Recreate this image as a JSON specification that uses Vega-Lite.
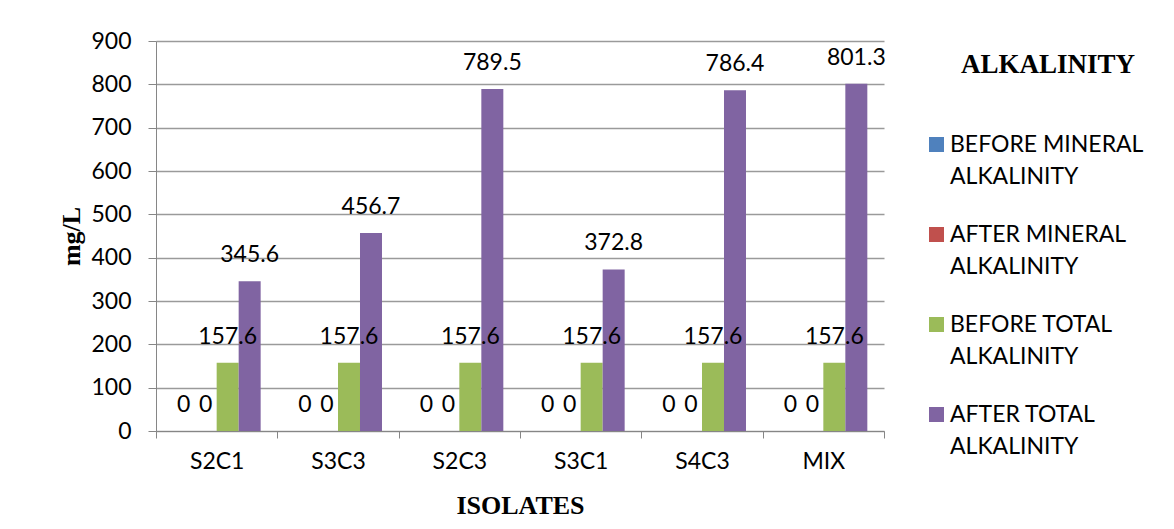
{
  "$schema": "https://vega.github.io/schema/vega-lite/v6.json",
  "width": 728,
  "height": 390,
  "autosize": {"type": "none"},
  "padding": {"left": 156, "top": 41, "right": 290, "bottom": 98},
  "background": "white",
  "config": {
    "view": {"stroke": null},
    "axis": {
      "domainColor": "#868686",
      "tickColor": "#868686",
      "gridColor": "#9a9a9a",
      "labelColor": "black",
      "titleColor": "black",
      "labelFont": "Lato",
      "labelFontSize": 23,
      "titleFont": "Liberation Serif",
      "titleFontWeight": "bold",
      "titleFontSize": 26
    }
  },
  "data": {
    "values": [
      {"isolate": "S2C1", "series": "BEFORE MINERAL ALKALINITY", "value": 0},
      {"isolate": "S2C1", "series": "AFTER MINERAL ALKALINITY", "value": 0},
      {"isolate": "S2C1", "series": "BEFORE TOTAL ALKALINITY", "value": 157.6},
      {"isolate": "S2C1", "series": "AFTER TOTAL ALKALINITY", "value": 345.6},
      {"isolate": "S3C3", "series": "BEFORE MINERAL ALKALINITY", "value": 0},
      {"isolate": "S3C3", "series": "AFTER MINERAL ALKALINITY", "value": 0},
      {"isolate": "S3C3", "series": "BEFORE TOTAL ALKALINITY", "value": 157.6},
      {"isolate": "S3C3", "series": "AFTER TOTAL ALKALINITY", "value": 456.7},
      {"isolate": "S2C3", "series": "BEFORE MINERAL ALKALINITY", "value": 0},
      {"isolate": "S2C3", "series": "AFTER MINERAL ALKALINITY", "value": 0},
      {"isolate": "S2C3", "series": "BEFORE TOTAL ALKALINITY", "value": 157.6},
      {"isolate": "S2C3", "series": "AFTER TOTAL ALKALINITY", "value": 789.5},
      {"isolate": "S3C1", "series": "BEFORE MINERAL ALKALINITY", "value": 0},
      {"isolate": "S3C1", "series": "AFTER MINERAL ALKALINITY", "value": 0},
      {"isolate": "S3C1", "series": "BEFORE TOTAL ALKALINITY", "value": 157.6},
      {"isolate": "S3C1", "series": "AFTER TOTAL ALKALINITY", "value": 372.8},
      {"isolate": "S4C3", "series": "BEFORE MINERAL ALKALINITY", "value": 0},
      {"isolate": "S4C3", "series": "AFTER MINERAL ALKALINITY", "value": 0},
      {"isolate": "S4C3", "series": "BEFORE TOTAL ALKALINITY", "value": 157.6},
      {"isolate": "S4C3", "series": "AFTER TOTAL ALKALINITY", "value": 786.4},
      {"isolate": "MIX", "series": "BEFORE MINERAL ALKALINITY", "value": 0},
      {"isolate": "MIX", "series": "AFTER MINERAL ALKALINITY", "value": 0},
      {"isolate": "MIX", "series": "BEFORE TOTAL ALKALINITY", "value": 157.6},
      {"isolate": "MIX", "series": "AFTER TOTAL ALKALINITY", "value": 801.3}
    ]
  },
  "encoding": {
    "x": {
      "field": "isolate",
      "type": "nominal",
      "sort": ["S2C1", "S3C3", "S2C3", "S3C1", "S4C3", "MIX"],
      "scale": {"paddingInner": 0, "paddingOuter": 0},
      "title": "ISOLATES",
      "axis": {
        "labelAngle": 0,
        "tickBand": "extent",
        "tickSize": 7,
        "labelPadding": 12,
        "titlePadding": 19,
        "grid": false
      }
    },
    "xOffset": {
      "field": "series",
      "type": "nominal",
      "sort": ["BEFORE MINERAL ALKALINITY", "AFTER MINERAL ALKALINITY", "BEFORE TOTAL ALKALINITY", "AFTER TOTAL ALKALINITY"],
      "scale": {"paddingInner": 0, "paddingOuter": 0.758}
    },
    "y": {
      "field": "value",
      "type": "quantitative",
      "scale": {"domain": [0, 900]},
      "title": "mg/L",
      "axis": {
        "values": [0, 100, 200, 300, 400, 500, 600, 700, 800, 900],
        "tickSize": 8,
        "labelPadding": 17,
        "titlePadding": 6,
        "grid": true,
        "gridWidth": 1.5
      }
    }
  },
  "layer": [
    {
      "mark": {"type": "bar"},
      "encoding": {
        "color": {
          "field": "series",
          "type": "nominal",
          "scale": {
            "domain": ["BEFORE MINERAL ALKALINITY", "AFTER MINERAL ALKALINITY", "BEFORE TOTAL ALKALINITY", "AFTER TOTAL ALKALINITY"],
            "range": ["#4F81BD", "#C0504D", "#9BBB59", "#8064A2"]
          },
          "legend": {
            "orient": "right",
            "offset": 30,
            "padding": 11,
            "title": "ALKALINITY",
            "titleFont": "Liberation Serif",
            "titleFontWeight": "bold",
            "titleFontSize": 27,
            "titleColor": "black",
            "titleAnchor": "middle",
            "titlePadding": 54,
            "labelFont": "Lato",
            "labelFontSize": 23,
            "labelColor": "black",
            "labelOffset": 2,
            "labelLimit": 300,
            "symbolType": "square",
            "symbolSize": 225,
            "symbolStrokeWidth": 0,
            "rowPadding": 34,
            "labelExpr": "[slice(datum.label, 0, lastindexof(datum.label, ' ')), slice(datum.label, lastindexof(datum.label, ' ') + 1)]",
            "encode": {
              "labels": {"update": {"lineHeight": {"value": 32}}},
              "title": {"update": {"dx": {"value": 14}}}
            }
          }
        }
      }
    },
    {
      "mark": {"type": "text", "baseline": "alphabetic", "dy": -19, "font": "Lato", "fontSize": 23, "color": "black"},
      "encoding": {
        "text": {"field": "value", "type": "quantitative", "format": "~f"}
      }
    }
  ]
}
